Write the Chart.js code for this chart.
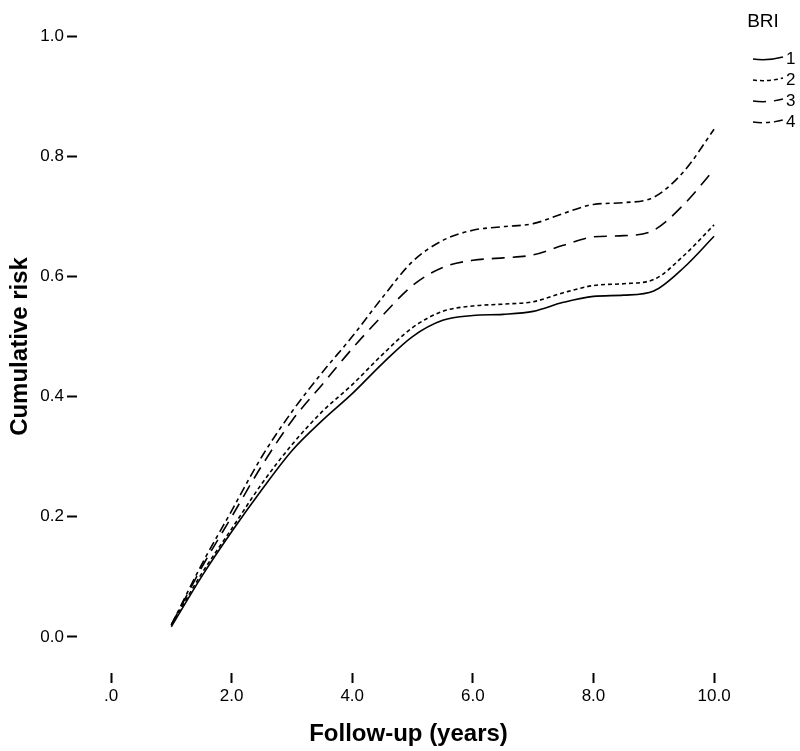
<!DOCTYPE html>
<html>
<head>
<meta charset="utf-8">
<script src="https://cdn.jsdelivr.net/npm/chart.js@4/dist/chart.umd.min.js"></script>
<style>
  body { margin: 0; background: #fff; }
  #wrap { width: 800px; height: 751px; }
</style>
</head>
<body>
<div id="wrap"><canvas id="riskChart" width="800" height="751"></canvas></div>
<script>
// follow-up times (years)
var years = [1.0, 1.5, 2.0, 2.5, 3.0, 3.5, 4.0, 4.5, 5.0, 5.5, 6.0, 6.5, 7.0, 7.5, 8.0, 8.5, 9.0, 9.5, 10.0];

// cumulative risk per BRI group
var bri1 = [0.017, 0.10, 0.175, 0.245, 0.31, 0.36, 0.405, 0.455, 0.50, 0.527, 0.535, 0.537, 0.542, 0.557, 0.567, 0.569, 0.576, 0.615, 0.667];
var bri2 = [0.02, 0.105, 0.18, 0.255, 0.32, 0.375, 0.42, 0.47, 0.515, 0.542, 0.551, 0.554, 0.558, 0.573, 0.585, 0.588, 0.595, 0.635, 0.686];
var bri3 = [0.02, 0.115, 0.20, 0.285, 0.36, 0.42, 0.48, 0.535, 0.585, 0.615, 0.627, 0.631, 0.636, 0.652, 0.666, 0.668, 0.677, 0.72, 0.778];
var bri4 = [0.02, 0.12, 0.21, 0.30, 0.375, 0.44, 0.50, 0.565, 0.625, 0.66, 0.677, 0.683, 0.688, 0.705, 0.72, 0.723, 0.732, 0.775, 0.845];

var groupLabels = ['1', '2', '3', '4'];
var xTickValues = [0, 2, 4, 6, 8, 10];
var yTickValues = [0, 0.2, 0.4, 0.6, 0.8, 1.0];

var dashes = [[], [4, 3], [13, 8], [9, 4, 4, 4]];

function toPoints(values) {
  return values.map(function (v, i) { return { x: years[i], y: v }; });
}

var font = 'Arial, "Liberation Sans", sans-serif';

// legend drawn by hand so the dashed samples look like the original
var briLegend = {
  id: 'briLegend',
  afterDraw: function (chart) {
    var ctx = chart.ctx;
    ctx.save();
    ctx.fillStyle = '#000';
    ctx.font = '19px ' + font;
    ctx.textAlign = 'center';
    ctx.textBaseline = 'middle';
    ctx.fillText('BRI', 763, 22);
    ctx.font = '17px ' + font;
    ctx.textAlign = 'left';
    chart.data.datasets.forEach(function (ds, i) {
      var y = 58 + i * 21;
      ctx.strokeStyle = '#000';
      ctx.lineWidth = 1.5;
      ctx.setLineDash(ds.borderDash);
      ctx.beginPath();
      ctx.moveTo(753, y + 1);
      ctx.quadraticCurveTo(768, y + 3, 783, y - 1);
      ctx.stroke();
      ctx.setLineDash([]);
      ctx.fillText(ds.label, 786, y + 1);
    });
    ctx.restore();
  }
};

var ctx = document.getElementById('riskChart').getContext('2d');

new Chart(ctx, {
  type: 'line',
  data: {
    datasets: [bri1, bri2, bri3, bri4].map(function (vals, i) {
      return {
        label: groupLabels[i],
        data: toPoints(vals),
        borderColor: '#000',
        borderWidth: 1.6,
        borderDash: dashes[i],
        pointRadius: 0,
        fill: false,
        cubicInterpolationMode: 'monotone'
      };
    })
  },
  options: {
    responsive: false,
    animation: false,
    layout: { padding: { top: 20, right: 60, left: 0, bottom: 0 } },
    plugins: {
      legend: { display: false },
      tooltip: { enabled: false }
    },
    scales: {
      x: {
        type: 'linear',
        min: -0.564,
        max: 10.43,
        afterBuildTicks: function (scale) {
          scale.ticks = xTickValues.map(function (v) { return { value: v }; });
        },
        afterFit: function (scale) { scale.height = 78; },
        grid: {
          drawOnChartArea: false,
          drawTicks: true,
          tickLength: 10,
          tickWidth: 2,
          tickColor: '#000'
        },
        border: { display: false },
        ticks: {
          color: '#000',
          padding: 3,
          maxRotation: 0,
          font: { family: font, size: 17 },
          callback: function (v) { return v === 0 ? '.0' : v.toFixed(1); }
        },
        title: {
          display: true,
          text: 'Follow-up (years)',
          color: '#000',
          padding: { top: 0, bottom: 2 },
          font: { family: font, size: 24, weight: 'bold' }
        }
      },
      y: {
        min: -0.06,
        max: 1.027,
        afterBuildTicks: function (scale) {
          scale.ticks = yTickValues.map(function (v) { return { value: v }; });
        },
        afterFit: function (scale) { scale.width = 77; },
        grid: {
          drawOnChartArea: false,
          drawTicks: true,
          tickLength: 10,
          tickWidth: 2,
          tickColor: '#000'
        },
        border: { display: false },
        ticks: {
          color: '#000',
          padding: 3,
          font: { family: font, size: 17 },
          callback: function (v) { return v.toFixed(1); }
        },
        title: {
          display: true,
          text: 'Cumulative risk',
          color: '#000',
          padding: { top: 6, bottom: 0 },
          font: { family: font, size: 24, weight: 'bold' }
        }
      }
    }
  },
  plugins: [briLegend]
});
</script>
</body>
</html>
